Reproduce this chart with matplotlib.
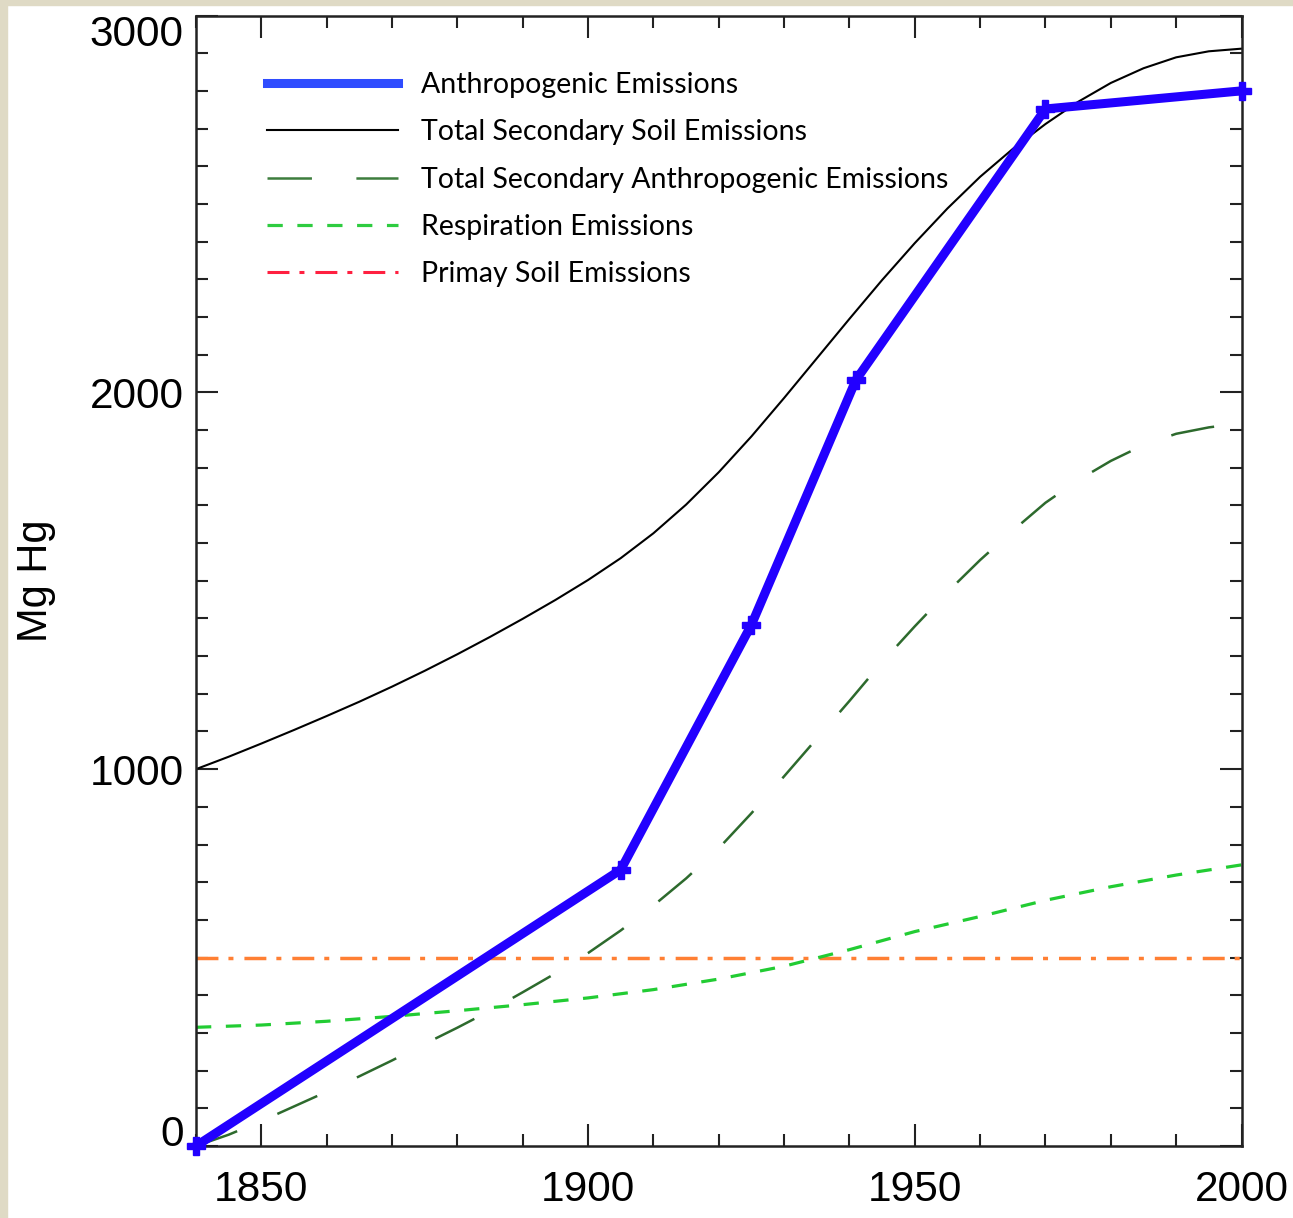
import matplotlib
matplotlib.use("Agg")
import matplotlib.pyplot as plt
from matplotlib.lines import Line2D
from matplotlib.patches import Rectangle
from matplotlib.ticker import MultipleLocator, FixedLocator

plt.rcParams['lines.scale_dashes'] = False

# emisje antropogeniczne (punkty pomiarowe)
anthro_years = [1840, 1905, 1925, 1941, 1970, 2000]
anthro_vals = [0, 733, 1383, 2033, 2752, 2800]

# wspólna oś czasu dla krzywych gładkich (co 5 lat)
years5 = [1840, 1845, 1850, 1855, 1860, 1865, 1870, 1875, 1880, 1885, 1890,
          1895, 1900, 1905, 1910, 1915, 1920, 1925, 1930, 1935, 1940, 1945,
          1950, 1955, 1960, 1965, 1970, 1975, 1980, 1985, 1990, 1995, 2000]
soil_total = [1000, 1033, 1068, 1104, 1141, 1179, 1219, 1261, 1305, 1351, 1399,
              1449, 1502, 1560, 1626, 1702, 1788, 1883, 1985, 2090, 2195, 2298,
              2396, 2488, 2572, 2646, 2712, 2771, 2821, 2860, 2889, 2905, 2912]
sec_anthro = [0, 30, 66, 105, 144, 185, 227, 271, 314, 359, 408,
              458, 512, 572, 638, 710, 790, 883, 981, 1081, 1181, 1284,
              1379, 1470, 1555, 1633, 1707, 1767, 1818, 1860, 1890, 1907, 1918]

resp_years = [1840, 1850, 1860, 1870, 1880, 1890, 1900, 1910, 1920, 1930,
              1940, 1950, 1960, 1970, 1980, 1990, 2000]
resp_vals = [315, 321, 331, 344, 359, 375, 393, 415, 443, 477,
             521, 569, 609, 652, 688, 719, 746]

primary_years = [1840, 2000]
primary_vals = [500, 500]

labels = ['Anthropogenic Emissions',
          'Total Secondary Soil Emissions',
          'Total Secondary Anthropogenic Emissions',
          'Respiration Emissions',
          'Primay Soil Emissions']

fig = plt.figure(figsize=(12.93, 12.18), dpi=100)
ax = fig.add_axes([196 / 1293, 1 - 1146 / 1218, 1045.5 / 1293, 1130.5 / 1218])

# beżowe paski na brzegach (jak w oryginale)
fig.patches.append(Rectangle((0, 1 - 5 / 1218), 1, 5 / 1218, transform=fig.transFigure,
                             color='#dfdac5', zorder=0))
fig.patches.append(Rectangle((0, 0), 7 / 1293, 1, transform=fig.transFigure,
                             color='#dfdac5', zorder=0))

ax.plot(primary_years, primary_vals, color='#ff7f33', lw=2.5,
        ls=(0, (15.8, 7.2, 3.6, 7.9)))
ax.plot(resp_years, resp_vals, color='#22cc33', lw=2.3, ls=(0, (11, 10.5)))
ax.plot(years5, sec_anthro, color='#2d6a2d', lw=1.8, ls=(0, (31.5, 31.5)))
ax.plot(years5, soil_total, color='black', lw=1.5)
ax.plot(anthro_years, anthro_vals, color='#2200ff', lw=6.5, marker='P',
        markersize=13, clip_on=False, zorder=5)

ax.set_xlim(1840, 2000)
ax.set_ylim(0, 3000)

ax.xaxis.set_major_locator(FixedLocator([1850, 1900, 1950, 2000]))
ax.xaxis.set_minor_locator(MultipleLocator(10))
ax.yaxis.set_major_locator(FixedLocator([0, 1000, 2000, 3000]))
ax.yaxis.set_minor_locator(MultipleLocator(100))

ax.tick_params(which='both', direction='in', top=True, right=True, width=1.5,
               color='#222222')
ax.tick_params(which='major', length=15.8)
ax.tick_params(which='minor', length=8.3)
ax.tick_params(axis='x', which='major', labelsize=30.5, pad=17)
ax.tick_params(axis='y', which='major', labelsize=30.5, pad=9)
for lab in ax.get_xticklabels() + ax.get_yticklabels():
    lab.set_fontfamily('Liberation Sans')

yticks = ax.yaxis.get_major_ticks()
yticks[0].label1.set_va('baseline')
yticks[-1].label1.set_va('top')

for sp in ax.spines.values():
    sp.set_linewidth(1.8)
    sp.set_color('#222222')

ax.set_ylabel('Mg Hg', fontsize=30, family='Liberation Sans')
ax.yaxis.set_label_coords(-0.134, 0.5)

# legenda rysowana osobno (kolory jak w oryginalnej legendzie)
handles = [Line2D([], [], color='#2f4cff', lw=6.5),
           Line2D([], [], color='black', lw=1.5),
           Line2D([], [], color='#3d7d3d', lw=1.8, ls=(0, (32, 32))),
           Line2D([], [], color='#2ecc40', lw=2.3, ls=(0, (11, 10.5))),
           Line2D([], [], color='#ff2040', lw=2.2, ls=(0, (15.8, 7.2, 3.6, 7.9)))]
ax.legend(handles, labels, loc='upper left', bbox_to_anchor=(0.068, 0.950),
          frameon=False, borderpad=0, borderaxespad=0,
          prop={'family': 'Lato', 'size': 20.5},
          handlelength=4.6, handletextpad=0.81, labelspacing=0.75)

fig.savefig('out.png', dpi=100)
